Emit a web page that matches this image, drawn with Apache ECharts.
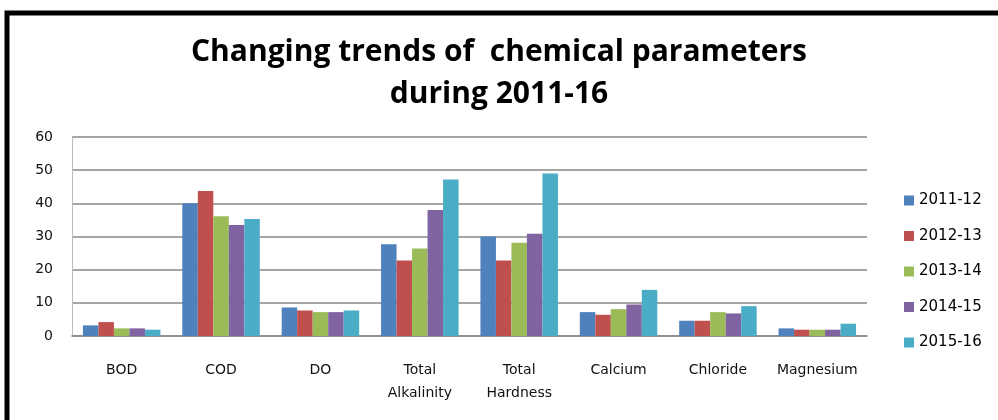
<!DOCTYPE html>
<html>
<head>
<meta charset="utf-8">
<script src="https://cdn.jsdelivr.net/npm/echarts@6/dist/echarts.min.js"></script>
<style>
    html, body { margin: 0; padding: 0; background: #fff; }
    #chart_con { width: 998px; height: 420px; }
</style>
</head>
<body>
<div id="chart_con"></div>
<script>
// parameters on the x axis
var categories = ['BOD', 'COD', 'DO', 'Total\nAlkalinity', 'Total\nHardness', 'Calcium', 'Chloride', 'Magnesium'];
var years = ['2011-12', '2012-13', '2013-14', '2014-15', '2015-16'];
var colors = ['#4F81BD', '#C0504D', '#9BBB59', '#8064A2', '#4BACC6'];

var y2011 = [3.2, 40.0, 8.6, 27.7, 30.0, 7.2, 4.6, 2.3];
var y2012 = [4.2, 43.7, 7.7, 22.8, 22.8, 6.4, 4.6, 1.9];
var y2013 = [2.3, 36.1, 7.2, 26.4, 28.1, 8.1, 7.2, 1.9];
var y2014 = [2.3, 33.5, 7.2, 38.0, 30.8, 9.5, 6.8, 1.9];
var y2015 = [1.9, 35.3, 7.7, 47.2, 49.0, 13.9, 9.0, 3.7];

var yTicks = [0, 10, 20, 30, 40, 50, 60];

var values = [y2011, y2012, y2013, y2014, y2015];
var labelFont = 'DejaVu Sans';

var chart = echarts.init(document.getElementById('chart_con'));

var series = years.map(function (name, i) {
    return {
        name: name,
        type: 'bar',
        data: values[i],
        barGap: 0,
        barCategoryGap: '22%',
        itemStyle: { color: colors[i] }
    };
});

var option = {
    animation: false,
    color: colors,
    title: {
        text: 'Changing trends of  chemical parameters\nduring 2011-16',
        left: 'center',
        top: 26,
        textStyle: {
            fontFamily: '"Open Sans"',
            fontWeight: 'bold',
            fontSize: 30,
            lineHeight: 42,
            color: '#000'
        }
    },
    graphic: [{
        type: 'rect',
        shape: { x: 7, y: 13, width: 1000, height: 420 },
        style: { fill: null, stroke: '#000', lineWidth: 5 },
        silent: true
    }],
    legend: {
        orient: 'vertical',
        left: 899,
        top: 188,
        itemWidth: 10,
        itemHeight: 10,
        itemGap: 20.5,
        icon: 'rect',
        textStyle: { fontFamily: labelFont, fontSize: 15, color: '#000' },
        data: years
    },
    grid: {
        left: 72,
        right: 131,
        top: 137,
        bottom: 84
    },
    xAxis: {
        type: 'category',
        data: categories,
        axisTick: { show: false },
        axisLine: { lineStyle: { color: '#888', width: 1.5 } },
        axisLabel: {
            margin: 23,
            interval: 0,
            fontFamily: labelFont,
            fontSize: 14,
            lineHeight: 23,
            color: '#111'
        }
    },
    yAxis: {
        type: 'value',
        min: yTicks[0],
        max: yTicks[yTicks.length - 1],
        interval: 10,
        axisLine: { show: true, lineStyle: { color: '#bbb', width: 1 } },
        axisTick: { show: false },
        axisLabel: {
            margin: 19,
            fontFamily: labelFont,
            fontSize: 14,
            color: '#111'
        },
        splitLine: { lineStyle: { color: '#888', width: 1.5 } }
    },
    series: series
};

chart.setOption(option);
window.addEventListener('resize', function () {
    chart.resize();
});
</script>
</body>
</html>
